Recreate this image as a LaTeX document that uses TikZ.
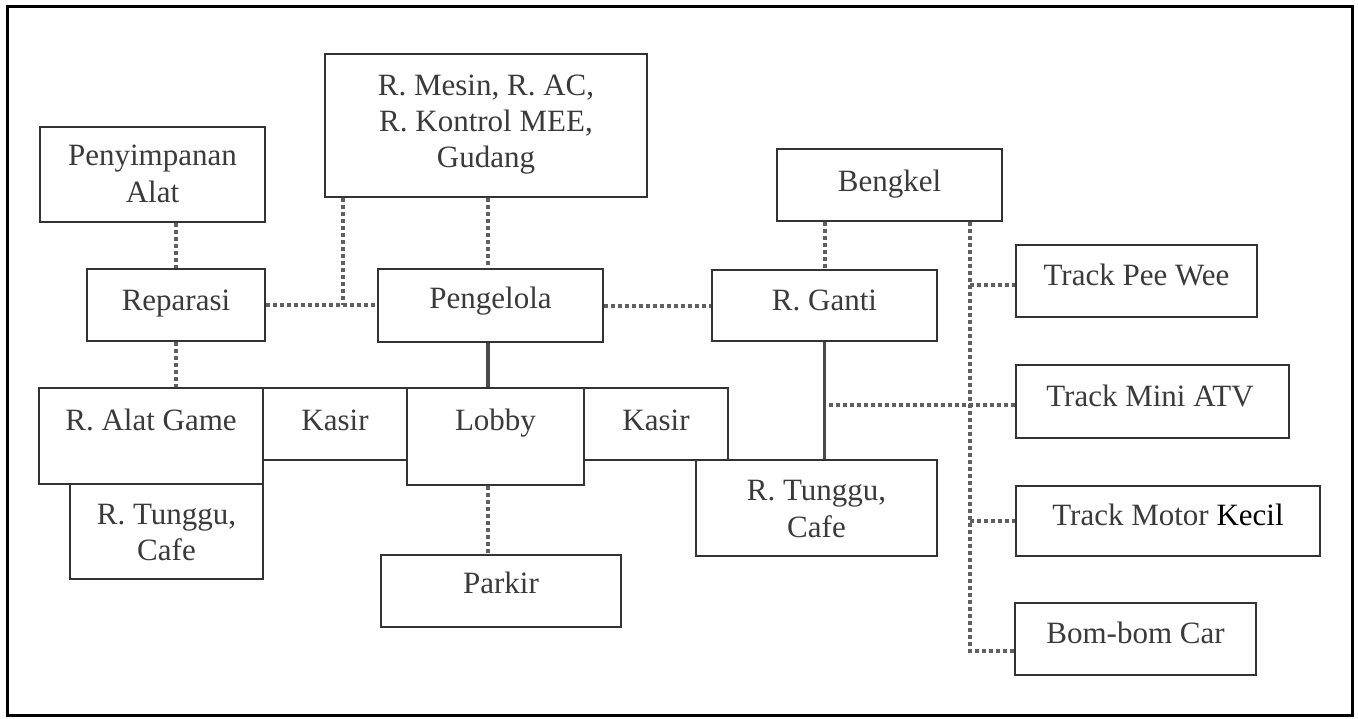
\documentclass[tikz,border=0pt]{standalone}
\usepackage{fontspec}
\setmainfont{Liberation Serif}
\usetikzlibrary{calc}
\definecolor{ink}{HTML}{3A3A3A}
\definecolor{boxline}{HTML}{333333}
\definecolor{dotline}{HTML}{606060}
\definecolor{solidline}{HTML}{4A4A4A}
\pgfdeclarelayer{links}
\pgfsetlayers{links,main}
% room box: name, centre x, centre y, width, height
\newcommand\roombox[5]{\node[room, minimum width=#4pt, minimum height=#5pt] (#1) at (#2,#3) {};}
\begin{document}
\begin{tikzpicture}[x=1pt,y=-1pt,
  room/.style={draw=boxline, line width=1.7pt, rectangle, inner sep=0pt},
  lbl/.style={anchor=base, inner sep=0pt, text=ink, font=\fontsize{31}{36}\selectfont},
  dotlink/.style={draw=dotline, line width=4pt, dash pattern=on 4pt off 3pt},
  solidlink/.style={draw=solidline, line width=3.5pt}]
\useasboundingbox (0,0) rectangle (1358,718);

% outer frame
\draw[black, line width=3pt] (7,6) rectangle (1352,715);

% rooms
\roombox{pen}{152.5}{174.5}{225}{95}
\roombox{rep}{176}{305}{178}{72}
\roombox{mesin}{486}{125.5}{322}{143}
\roombox{peng}{490.5}{305.5}{225}{73}
\roombox{beng}{889.5}{185}{225}{72}
\roombox{rg}{824.5}{305.5}{225}{71}
\roombox{pee}{1136.5}{281}{241}{72}
\roombox{mini}{1152.5}{401.5}{273}{73}
\roombox{motor}{1168}{521}{304}{70}
\roombox{bom}{1135.5}{639}{241}{72}
\roombox{ralat}{151}{436}{224}{96}
\roombox{kasira}{335}{424}{144}{72}
\roombox{lobby}{495.5}{436.5}{177}{97}
\roombox{kasirb}{656}{424}{144}{72}
\roombox{rtl}{166.5}{531.5}{193}{95}
\roombox{parkir}{501}{591}{240}{72}
\roombox{rtr}{816.5}{508}{241}{96}

% labels
\node[lbl] (t-pen1) at (152.5,165) {Penyimpanan};
\node[lbl] (t-pen2) at (152.5,202) {Alat};
\node[lbl] (t-rep) at (176,310) {Reparasi};
\node[lbl] (t-mes1) at (486,95) {R. Mesin, R. AC,};
\node[lbl] (t-mes2) at (486,131) {R. Kontrol MEE,};
\node[lbl] (t-mes3) at (486,167) {Gudang};
\node[lbl] (t-peng) at (490.5,308) {Pengelola};
\node[lbl] (t-beng) at (889.5,191) {Bengkel};
\node[lbl] (t-rg) at (824.5,310) {R. Ganti};
\node[lbl] (t-pee) at (1136.5,285) {Track Pee Wee};
\node[lbl] (t-mini) at (1150,406) {Track Mini ATV};
\node[lbl] (t-motor) at (1168,525) {Track Motor \textcolor{black}{Kecil}};
\node[lbl] (t-bom) at (1135.5,643) {Bom-bom Car};
\node[lbl] (t-ralat) at (151,430) {R. Alat Game};
\node[lbl] (t-kasira) at (335,430) {Kasir};
\node[lbl] (t-lobby) at (495.5,430) {Lobby};
\node[lbl] (t-kasirb) at (656,430) {Kasir};
\node[lbl] (t-rtl1) at (166.5,524) {R. Tunggu,};
\node[lbl] (t-rtl2) at (166.5,560) {Cafe};
\node[lbl] (t-parkir) at (501,593) {Parkir};
\node[lbl] (t-rtr1) at (816.5,500) {R. Tunggu,};
\node[lbl] (t-rtr2) at (816.5,537) {Cafe};

% connector anchor points
\coordinate (spine) at (488,0);
\coordinate (mtap) at ($(mesin.south west)+(19,0)$);
\coordinate (bus) at ($(beng.south east)+(-33,0)$);
\coordinate (peein) at ([yshift=-4pt]pee.west);
\coordinate (miniin) at ([yshift=-3.5pt]mini.west);
\coordinate (bomin) at ([yshift=-12pt]bom.west);
\coordinate (rgdrop) at ([xshift=4pt]rg.south);

\begin{pgfonlayer}{links}
  % dotted relations
  \draw[dotlink] (rep.north |- pen.south) -- (rep.north);
  \draw[dotlink] (rep.south) -- (rep.south |- ralat.north);
  \draw[dotlink] (rep.east) -- (rep.east -| peng.west);
  \draw[dotlink] (mtap) -- (mtap |- rep.east);
  \draw[dotlink] (spine |- mesin.south) -- (spine |- peng.north);
  \draw[dotlink] (peng.east) -- (peng.east -| rg.west);
  \draw[dotlink] (rg.north |- beng.south) -- (rg.north);
  \draw[dotlink] (spine |- lobby.south) -- (spine |- parkir.north);
  \draw[dotlink] (bus) -- (bus |- bomin) -- (bomin);
  \draw[dotlink] (bus |- peein) -- (peein);
  \draw[dotlink] (bus |- motor.west) -- (motor.west);
  \draw[dotlink] (rgdrop |- miniin) -- (miniin);
  % solid relations
  \draw[solidlink] (spine |- peng.south) -- (spine |- lobby.north);
  \draw[solidlink] (rg.south) -- (rg.south |- rtr.north);
\end{pgfonlayer}
\end{tikzpicture}
\end{document}
